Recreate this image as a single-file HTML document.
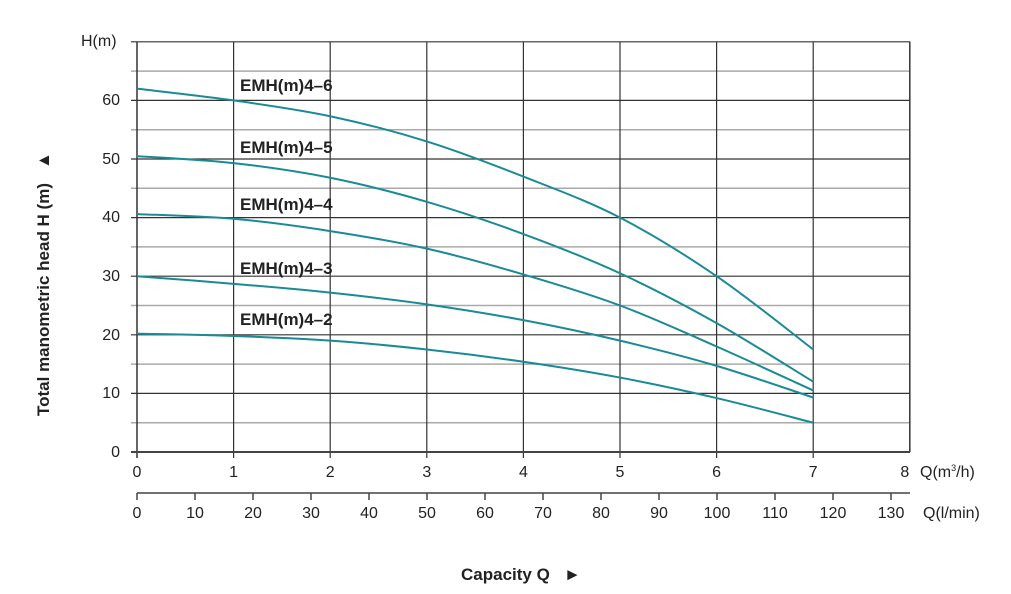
<!DOCTYPE html>
<html><head><style>
body{margin:0;background:#fff;}
svg text{font-family:"Liberation Sans",Arial,sans-serif;fill:#222;}
</style></head><body>
<svg id="s" width="1011" height="589" xmlns="http://www.w3.org/2000/svg">
<g id="grid"></g>
<text x="81" y="46" font-size="16">H(m)</text>
<g font-size="16" text-anchor="end">
<text x="120" y="105">60</text><text x="120" y="164">50</text><text x="120" y="222">40</text>
<text x="120" y="281">30</text><text x="120" y="340">20</text><text x="120" y="398">10</text><text x="120" y="457">0</text>
</g>
<g font-size="16" text-anchor="middle" id="xl"></g>
<text x="920" y="477" font-size="16">Q(m<tspan font-size="9" dy="-6">3</tspan><tspan dy="6">/h)</tspan></text>
<text x="923" y="518" font-size="16">Q(l/min)</text>
<g font-size="17" font-weight="bold">
<text x="240" y="91">EMH(m)4–6</text>
<text x="240" y="153">EMH(m)4–5</text>
<text x="240" y="210">EMH(m)4–4</text>
<text x="240" y="274">EMH(m)4–3</text>
<text x="240" y="325">EMH(m)4–2</text>
</g>
<text transform="translate(49,284) rotate(-90)" font-size="17" font-weight="bold" text-anchor="middle">Total manometric head H (m) &#160;&#160;▲</text>
<text x="461" y="580" font-size="17" font-weight="bold">Capacity Q &#160;&#160;►</text>
<g id="curves" fill="none" stroke="#1a8b95" stroke-width="2"></g>
</svg>
<script>
var ns="http://www.w3.org/2000/svg";
function X(q){return 137+q*96.6}
function Y(h){return 452-h*5.86}
function el(p,t,a){var e=document.createElementNS(ns,t);for(var k in a)e.setAttribute(k,a[k]);p.appendChild(e);return e}
var g=document.getElementById('grid');
for(var h=5;h<=70;h+=5){el(g,'line',{x1:131,x2:910,y1:Y(h),y2:Y(h),stroke:h%10==0||h==70?'#333':'#aaa','stroke-width':h%10==0||h==70?1.2:1.5});}
for(var q=0;q<=8;q++){el(g,'line',{x1:X(q),x2:X(q),y1:Y(70),y2:q==8?452:458,stroke:'#333','stroke-width':q==0||q==8?1.5:1.2});}
el(g,'line',{x1:131,x2:910,y1:452,y2:452,stroke:'#444','stroke-width':2});
el(g,'line',{x1:137,x2:910,y1:493,y2:493,stroke:'#444','stroke-width':1.5});
var xl=document.getElementById('xl');
for(var q=0;q<=8;q++){var t=el(xl,'text',{x:q==8?X(q)-5:X(q),y:477});t.textContent=q;}
for(var L=0;L<=130;L+=10){var x=137+L*5.8;el(g,'line',{x1:x,x2:x,y1:493,y2:500,stroke:'#444','stroke-width':1.5});var t=el(xl,'text',{x:x,y:518});t.textContent=L;}
var D=[[62,60,57.3,53,47,40,30,17.5],[50.5,49.3,46.8,42.7,37.2,30.5,22,12],[40.6,39.8,37.7,34.7,30.3,25,18,10.5],[30,28.7,27.2,25.2,22.5,19,14.7,9.3],[20.2,19.8,19,17.5,15.4,12.7,9.2,5]];
var c=document.getElementById('curves');
D.forEach(function(d){var p=[];for(var i=0;i<8;i++)p.push([X(i),Y(d[i])]);
var s='M'+p[0][0]+','+p[0][1];
for(var i=0;i<7;i++){var p0=p[Math.max(i-1,0)],p1=p[i],p2=p[i+1],p3=p[Math.min(i+2,7)];
s+=' C'+(p1[0]+(p2[0]-p0[0])/6)+','+(p1[1]+(p2[1]-p0[1])/6)+' '+(p2[0]-(p3[0]-p1[0])/6)+','+(p2[1]-(p3[1]-p1[1])/6)+' '+p2[0]+','+p2[1];}
el(c,'path',{d:s});});
</script>
</body></html>
